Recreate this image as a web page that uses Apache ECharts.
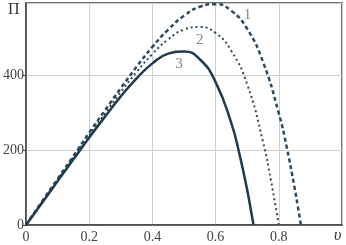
<!DOCTYPE html>
<html><head><meta charset="utf-8">
<script src="https://cdn.jsdelivr.net/npm/echarts@6/dist/echarts.min.js"></script>
<style>html,body{margin:0;padding:0;background:#fff}#c{width:346px;height:245px}</style>
</head><body><div id="c"></div>
<script>
const curve1 = [[0,0],[0.05,62],[0.1,123],[0.15,184],[0.2,246],[0.25,306],[0.3,365],[0.35,422],[0.4,475],[0.45,521],[0.5,558],[0.55,582],[0.6,589],[0.65,571],[0.7,523],[0.75,435],[0.8,298],[0.825,208],[0.85,99],[0.86,51],[0.87,0]];
const curve2 = [[0,0],[0.05,60],[0.1,120],[0.15,180],[0.2,239],[0.25,298],[0.3,355],[0.35,408],[0.4,456],[0.45,495],[0.5,521],[0.55,528],[0.6,512],[0.65,464],[0.7,375],[0.75,222],[0.775,120],[0.8,0]];
const curve3 = [[0,0],[0.05,58],[0.1,117],[0.15,175],[0.2,233],[0.25,289],[0.3,343],[0.35,391],[0.4,431],[0.45,457],[0.5,463],[0.55,442],[0.6,381],[0.65,271],[0.675,191],[0.7,93],[0.71,48],[0.72,0]];
const curveLabels = [[0.701,560,'1'],[0.55,493,'2'],[0.484,429,'3']];
const xTicks = [0,0.2,0.4,0.6,0.8];
const yTicks = [0,200,400];

const FONT = '"Liberation Serif", "Times New Roman", serif';
const lineColor = '#2b4a5e';
const chart = echarts.init(document.getElementById('c'));
chart.setOption({
  animation:false,
  grid:{left:24,right:4,top:3,bottom:20,show:true,borderColor:'#444',borderWidth:1.5},
  xAxis:{type:'value',min:0,max:1,interval:0.2,
    axisLine:{lineStyle:{color:'#444',width:1.5}},
    axisTick:{show:false},
    splitLine:{lineStyle:{color:'#cfcfcf',width:1}},
    axisLabel:{showMaxLabel:false,color:'#444',fontFamily:FONT,fontSize:14,margin:5,
      formatter:v=>xTicks.includes(+v.toFixed(2))?String(+v.toFixed(2)):''}},
  yAxis:{type:'value',min:0,max:592,interval:200,
    axisLine:{lineStyle:{color:'#444',width:1.5}},
    axisTick:{show:true,length:3,lineStyle:{color:'#444'}},
    splitLine:{lineStyle:{color:'#cfcfcf',width:1}},
    axisLabel:{showMaxLabel:false,color:'#444',fontFamily:FONT,fontSize:14,margin:2,
      formatter:v=>yTicks.includes(v)?String(v):''}},
  graphic:[
    {type:'text',left:8,top:2,style:{text:'Π',fontFamily:FONT,fontSize:16,fill:'#333'}},
    {type:'text',left:334,top:228,style:{text:'υ',fontFamily:FONT,fontStyle:'italic',fontSize:16,fill:'#333'}}
  ],
  series:[
    {type:'line',data:curve1,smooth:true,showSymbol:false,lineStyle:{color:lineColor,width:2.5,type:[4,3]}},
    {type:'line',data:curve2,smooth:true,showSymbol:false,lineStyle:{color:lineColor,width:2,type:[2,3]}},
    {type:'line',data:curve3,smooth:true,showSymbol:false,lineStyle:{color:'#1f3b4d',width:2.5}},
    {type:'scatter',data:curveLabels,symbolSize:0,silent:true,
      label:{show:true,position:'inside',formatter:p=>p.data[2],color:'#666',fontFamily:FONT,fontSize:15}}
  ]
});
</script></body></html>
